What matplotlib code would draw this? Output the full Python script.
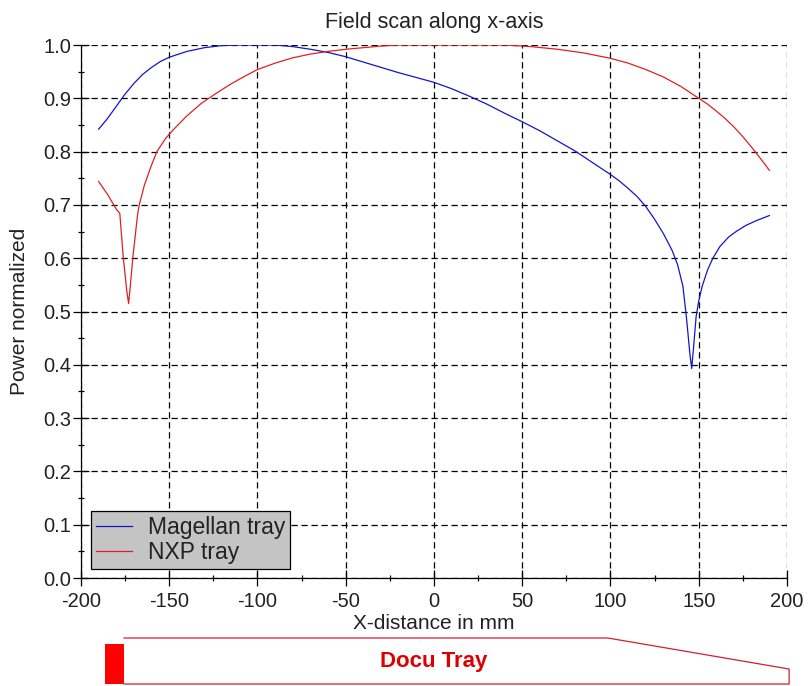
import numpy as np
import matplotlib
matplotlib.use('Agg')
import matplotlib.pyplot as plt
from matplotlib.ticker import MultipleLocator, FormatStrFormatter

plt.rcParams['font.family'] = ['Liberation Sans', 'DejaVu Sans']
plt.rcParams['axes.unicode_minus'] = False

# Magellan tray (blue)
mag_x = [-190, -185, -180, -175, -170, -165, -160, -155, -150, -140, -130, -120,
         -110, -100, -90, -80, -70, -60, -50, -40, -30, -20, -10, 0, 10, 20, 30,
         40, 50, 60, 70, 80, 90, 100, 105, 110, 115, 120, 125, 130, 135, 138,
         141, 143, 145, 146, 147, 148.5, 150, 152, 155, 158, 162, 167, 172, 177,
         183, 190]
mag_y = [0.842, 0.862, 0.885, 0.908, 0.928, 0.945, 0.958, 0.969, 0.977, 0.988,
         0.995, 0.999, 1.0, 1.0, 1.0, 0.997, 0.992, 0.986, 0.978, 0.968, 0.958,
         0.948, 0.939, 0.930, 0.918, 0.904, 0.889, 0.872, 0.856, 0.839, 0.820,
         0.801, 0.779, 0.757, 0.745, 0.731, 0.716, 0.697, 0.673, 0.646, 0.614,
         0.588, 0.548, 0.490, 0.420, 0.393, 0.430, 0.490, 0.520, 0.548, 0.578,
         0.600, 0.622, 0.640, 0.652, 0.662, 0.671, 0.680]

# NXP tray (red)
nxp_x = [-190, -185, -180, -178, -176, -174, -173, -172, -170.5, -168, -167,
         -164, -160, -157, -152, -148, -140, -132, -124, -116, -108, -100, -90,
         -80, -70, -60, -50, -40, -30, -20, 0, 20, 40, 55, 70, 85, 100, 110, 120,
         130, 140, 150, 155, 160, 165, 170, 175, 180, 185, 190]
nxp_y = [0.744, 0.720, 0.692, 0.684, 0.600, 0.537, 0.515, 0.550, 0.605, 0.680,
         0.700, 0.738, 0.775, 0.800, 0.825, 0.840, 0.867, 0.890, 0.908, 0.925,
         0.940, 0.954, 0.966, 0.976, 0.983, 0.988, 0.992, 0.995, 0.998, 1.0, 1.0,
         1.0, 1.0, 0.997, 0.992, 0.985, 0.975, 0.966, 0.954, 0.940, 0.922, 0.900,
         0.889, 0.876, 0.862, 0.846, 0.828, 0.808, 0.787, 0.765]

# tray sketch under the x axis (x in mm, y relative 0..1)
tray_x = [-175.6, 98.5, 201.2, 201.2, -175.6]
tray_y = [1.0, 1.0, 0.326, 0.0, 0.0]
block_x = (-186.5, -175.6)
block_top = 0.87

fig = plt.figure(figsize=(8.09, 6.86), dpi=100)
ax = fig.add_axes([0.1001, 0.1574, 0.8727, 0.777])

ax.plot(mag_x, mag_y, color='#1515c8', lw=0.9, label='Magellan tray')
ax.plot(nxp_x, nxp_y, color='#e02020', lw=0.9, label='NXP tray')

ax.set_xlim(-200, 200)
ax.set_ylim(0, 1)
ax.xaxis.set_major_locator(MultipleLocator(50))
ax.xaxis.set_minor_locator(MultipleLocator(25))
ax.yaxis.set_major_locator(MultipleLocator(0.1))
ax.yaxis.set_minor_locator(MultipleLocator(0.05))
ax.yaxis.set_major_formatter(FormatStrFormatter('%.1f'))

ax.grid(True, which='major', color='black', linestyle=(0, (5, 3)), lw=0.9)
for s in ['top', 'right']:
    ax.spines[s].set_visible(False)
for s in ['left', 'bottom']:
    ax.spines[s].set_linewidth(0.9)
ax.tick_params(which='major', direction='inout', length=12, width=0.9,
               labelsize=14.5, colors='black', labelcolor='#222222')
ax.tick_params(axis='y', which='major', pad=1)
ax.tick_params(axis='x', which='major', pad=4)
ax.tick_params(which='minor', direction='inout', length=5, width=0.9)

ax.set_title('Field scan along x-axis', fontsize=15.5, color='#222222', pad=12)
ax.set_xlabel('X-distance in mm', fontsize=15, color='#222222', labelpad=2)
ax.set_ylabel('Power normalized', fontsize=15, color='#222222', labelpad=10)

leg = ax.legend(loc='lower left', bbox_to_anchor=(0.0142, 0.0169),
                borderaxespad=0, fontsize=16.5, handlelength=1.6,
                handletextpad=0.7, labelspacing=0.12, borderpad=0.2,
                fancybox=False, framealpha=1, facecolor='#c4c4c4',
                edgecolor='black')
leg.get_frame().set_linewidth(0.9)
for t in leg.get_texts():
    t.set_color('#222222')

tray = fig.add_axes([0.1001, 2 / 686, 0.8727, 46 / 686])
tray.set_xlim(-200, 200)
tray.set_ylim(0, 1)
tray.axis('off')
tray.plot(tray_x, tray_y, color='#d02030', lw=0.9, clip_on=False)
tray.fill_between(block_x, 0, block_top, color='#ff0000', lw=0, clip_on=False)
tray.text(0, 0.5, 'Docu Tray', color='#dd0000', fontsize=16,
          fontweight='bold', ha='center', va='center')

fig.savefig('out.png', dpi=100)
